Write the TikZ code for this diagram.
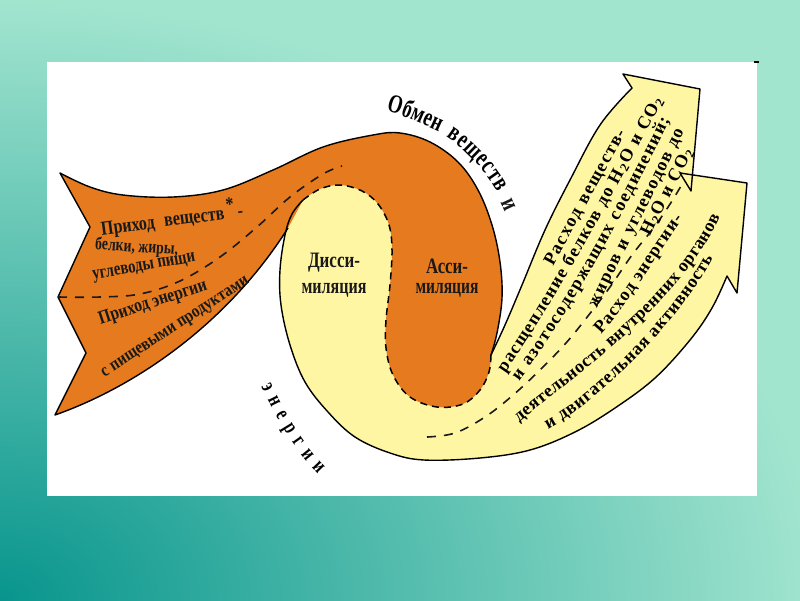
\documentclass[tikz,border=0pt]{standalone}
\usepackage{fontspec}
\usepackage{graphicx}
\setmainfont{Liberation Serif}
\newfontfamily\condfont{Liberation Serif}[FakeStretch=0.72]
\usetikzlibrary{decorations.text}
\definecolor{bgdark}{HTML}{08958D}
\definecolor{bglight}{HTML}{A2E5CF}
\definecolor{orfill}{HTML}{E67A1E}
\definecolor{yefill}{HTML}{FFF6A3}
\pgfdeclareradialshading{bgrad}{\pgfpoint{0bp}{0bp}}{color(0bp)=(bgdark); color(25bp)=(bglight); color(50bp)=(bglight)}
\newcommand{\ylab}{\bfseries\fontsize{18}{18}\selectfont}
\newcommand{\clab}{\condfont\bfseries\fontsize{26}{26}\selectfont}
\tikzset{
  outline/.style={line width=1.4pt, line join=round, draw=black},
  blobdash/.style={line width=1.5pt, dash pattern=on 7pt off 5pt, draw=black},
  flowdash/.style={line width=1.6pt, dash pattern=on 9pt off 8pt, draw=black!90},
  lbl/.style={inner sep=0pt, text=black!90},
  ytext/.style={decorate, decoration={text along path, text align={fit to path}, text={|\ylab|#1}}},
  ctext/.style={decorate, decoration={text along path, text align={fit to path}, text={|\clab|#1}}},
}
\newcommand{\fitlbl}[3]{\resizebox{#1pt}{\height}{\fontsize{#2}{#2}\selectfont\bfseries #3}}
\begin{document}
\begin{tikzpicture}[x=1pt,y=-1pt]
\useasboundingbox (0,0) rectangle (800,600);
\begin{scope}
  \clip (0,0) rectangle (800,600);
  \fill[bglight] (0,0) rectangle (800,600);
  \shade[shading=bgrad] (0,600) ellipse [x radius=820, y radius=600];
\end{scope}
\fill[white] (47,62) rectangle (757,496);
\draw[line width=1.2pt] (754,62) -- (759,62);

% yellow band
\fill[yefill] (303,200) -- plot[smooth,tension=0.6] coordinates {(303,200) (292,214) (285,235) (280,270) (281,305) (290,345) (305,382) (328,412) (355,437) (390,453) (424,460) (480,458) (530,450) (575,432) (615,408) (655,378) (690,340) (712,308) (727,276)}
  -- (737,293) -- (747,183) -- (680,173) -- (691,191) -- (700,89) -- (623,74) -- (632,88)
  -- plot[smooth,tension=0.6] coordinates {(632,88) (600,125) (570,180) (545,230) (522,285) (505,325) (491,355)}
  -- plot[smooth,tension=0.6] coordinates {(491,355) (489,372) (480,390) (463,404) (437,407) (410,397) (393,375) (386,348) (386,320) (390,285) (392,250) (389,225) (378,204) (362,191) (340,185) (320,189) (303,200)} -- cycle;

% orange band
\fill[orfill] (60,173) -- (90,227) -- (58,297) -- (86,353) -- (55,415)
  .. controls (140,385) and (230,320) .. (288,228) -- (303,200)
  -- plot[smooth,tension=0.6] coordinates {(303,200) (320,189) (340,185) (362,191) (378,204) (389,225) (392,250) (390,285) (386,320) (386,348) (393,375) (410,397) (437,407) (463,404) (480,390) (489,372) (491,355)}
  -- plot[smooth,tension=0.6] coordinates {(491,355) (497,333) (502,298) (500,262) (492,225) (478,190) (458,162) (430,142) (400,133) (373,135) (323,147) (273,170) (223,190) (173,197) (123,195) (90,187) (60,173)} -- cycle;

% outlines
\draw[outline] (303,200) -- plot[smooth,tension=0.6] coordinates {(303,200) (292,214) (285,235) (280,270) (281,305) (290,345) (305,382) (328,412) (355,437) (390,453) (424,460) (480,458) (530,450) (575,432) (615,408) (655,378) (690,340) (712,308) (727,276)}
  -- (737,293) -- (747,183) -- (680,173) -- (691,191) -- (700,89) -- (623,74) -- (632,88)
  -- plot[smooth,tension=0.6] coordinates {(632,88) (600,125) (570,180) (545,230) (522,285) (505,325) (491,355)};
\draw[outline] (288,228) .. controls (230,320) and (140,385) .. (55,415) -- (86,353) -- (58,297) -- (90,227) -- (60,173)
  -- plot[smooth,tension=0.6] coordinates {(60,173) (90,187) (123,195) (173,197) (223,190) (273,170) (323,147) (373,135) (400,133) (430,142) (458,162) (478,190) (492,225) (500,262) (502,298) (497,333) (491,355)};

% dashed lines
\draw[blobdash] plot[smooth,tension=0.6] coordinates {(303,200) (320,189) (340,185) (362,191) (378,204) (389,225) (392,250) (390,285) (386,320) (386,348) (393,375) (410,397) (437,407) (463,404) (480,390) (489,372) (491,355)};
\draw[flowdash] plot[smooth,tension=0.6] coordinates {(58,297) (100,297) (140,294) (180,281) (220,257) (257,227) (290,197) (323,174) (342,166)};
\draw[flowdash] plot[smooth,tension=0.6] coordinates {(427,437) (455,433) (485,417) (512,396) (540,370) (566,343) (588,316) (610,287) (632,255) (648,235) (660,219) (672,201) (681,186)};

% wing labels
\node[lbl, rotate=7.5] (w1) at (171.7,218) {\fitlbl{143}{20}{Приход\hspace{0.6em}веществ\,\raisebox{0.35em}{*}\,-}};
\node[lbl, rotate=-4] (w2) at (136.7,247.5) {\fitlbl{83}{18}{белки, жиры,}};
\node[lbl, rotate=10] (w3) at (144.2,268) {\fitlbl{104}{19}{углеводы пищи}};
\node[lbl, rotate=18] (w4) at (153,303) {\fitlbl{113}{19}{Приход энергии}};
\node[lbl, rotate=33] (w5) at (176,328) {\fitlbl{173}{18}{с пищевыми продуктами}};

% inner labels
\node[lbl] (d1) at (334,263) {\fitlbl{52}{22}{Дисси-}};
\node[lbl] (d2) at (334,290) {\fitlbl{65}{22}{миляция}};
\node[lbl] (a1) at (447,266) {\fitlbl{42}{22}{Асси-}};
\node[lbl] (a2) at (447,290) {\fitlbl{63}{22}{миляция}};

% yellow labels along curved baselines
\path[ytext={Расход веществ-}] (553,266) .. controls (573,229) and (606,169) .. (626,133);
\path[ytext={расщепление белков до H{\textsubscript{2}}O и CO{\textsubscript{2}}}] (505,373) .. controls (562,291) and (616,188) .. (663,100);
\path[ytext={и азотосодержащих соединений;}] (519,381) .. controls (576,305) and (627,206) .. (670,120);
\path[ytext={жиров и углеводов до}] (597,308) .. controls (623,253) and (658,186) .. (684,131);
\path[ytext={H{\textsubscript{2}}O и CO{\textsubscript{2}}}] (650,237) .. controls (663,209) and (679,180) .. (693,151);
\path[ytext={Расход энергии-}] (601,334) .. controls (628,305) and (659,251) .. (683,219);
\path[ytext={деятельность внутренних органов}] (519,422) .. controls (590,365) and (682,299) .. (720,217);
\path[ytext={и двигательная активность}] (548,429) .. controls (600,401) and (680,320) .. (713,258);

% curved labels round the loop
\path[ctext={Обмен}] (386,111) .. controls (403,115) and (421,124) .. (439,132);
\path[ctext={веществ}] (446,137) .. controls (465,149) and (484,169) .. (497,192);
\node[lbl, rotate=-65, font=\clab] (ci) at (508,205) {и};
\path[decorate, decoration={text along path, text align={fit to path},
  text={|\condfont\bfseries\fontsize{22}{22}\selectfont|энергии}}]
  (261,386) .. controls (275,415) and (291,447) .. (318,474);
\end{tikzpicture}
\end{document}
